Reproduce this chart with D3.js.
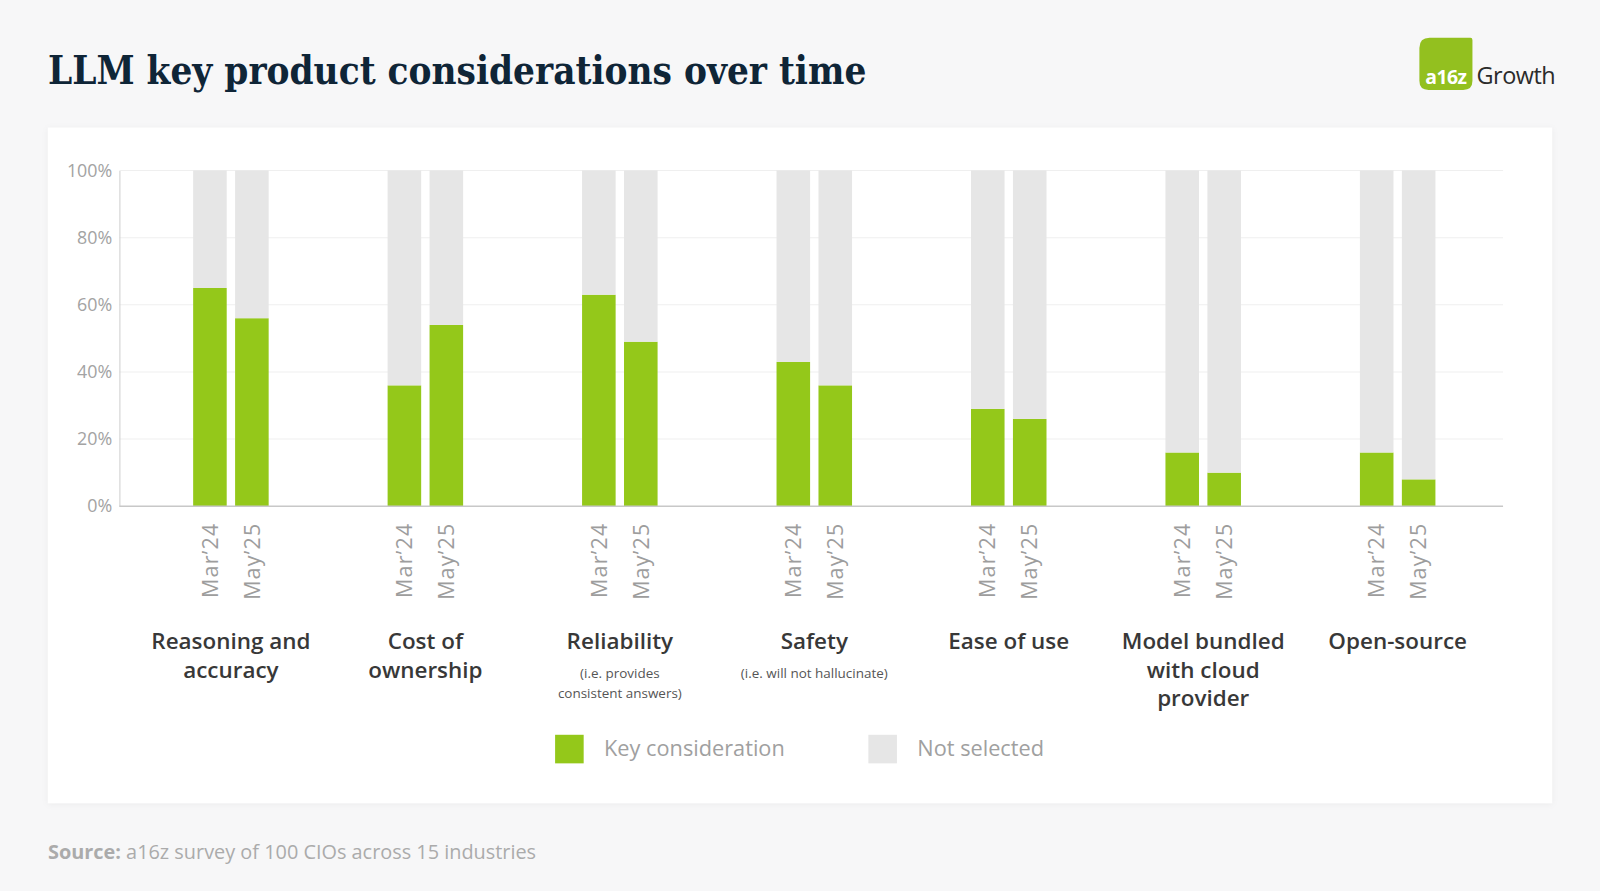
<!DOCTYPE html>
<html>
<head>
<meta charset="utf-8">
<script src="https://cdn.jsdelivr.net/npm/d3@7"></script>
<style>
  body { margin: 0; background: #f7f7f8; }
  svg { display: block; }
</style>
</head>
<body>
<svg id="chart" width="1600" height="891" viewBox="0 0 1568 873"></svg>
<script>
const categories = ['Reasoning and\naccuracy', 'Cost of\nownership', 'Reliability', 'Safety',
  'Ease of use', 'Model bundled\nwith cloud\nprovider', 'Open-source'];
const notes = ['', '', '(i.e. provides\nconsistent answers)', '(i.e. will not hallucinate)', '', '', ''];
const waves = ['Mar\u201924', 'May\u201925'];
const keyMar24 = [0.65, 0.36, 0.63, 0.43, 0.29, 0.16, 0.16];
const keyMay25 = [0.56, 0.54, 0.49, 0.36, 0.26, 0.10, 0.08];
const yTicks = [0, 0.2, 0.4, 0.6, 0.8, 1];
const legendLabels = ['Key consideration', 'Not selected'];

const GREEN = '#94c81a';
const GRAY = '#e6e6e6';
const SANS = '"Open Sans", Lato, sans-serif';

const svg = d3.select('#chart');

svg.append('rect').attr('width', 1568).attr('height', 873).attr('fill', '#f7f7f8');

// card with a soft shadow
const defs = svg.append('defs');
const f = defs.append('filter').attr('id', 'shadow')
  .attr('x', -0.05).attr('y', -0.05).attr('width', 1.1).attr('height', 1.1);
f.append('feDropShadow').attr('dx', 0).attr('dy', 1).attr('stdDeviation', 3)
  .attr('flood-color', '#000').attr('flood-opacity', 0.05);

svg.append('rect')
  .attr('x', 47).attr('y', 125).attr('width', 1474).attr('height', 662)
  .attr('fill', '#fff').attr('filter', 'url(#shadow)');

// title
svg.append('text')
  .attr('x', 47).attr('y', 82)
  .attr('font-family', '"DejaVu Serif", serif')
  .attr('font-weight', 'bold')
  .attr('font-size', 39)
  .attr('fill', '#0f2537')
  .attr('textLength', 802)
  .attr('lengthAdjust', 'spacingAndGlyphs')
  .text('LLM key product considerations over time');

// logo
const logo = svg.append('g').attr('transform', 'translate(1391,37)');
logo.append('path')
  .attr('d', 'M10,0 H50 Q52,0 52,2 V42 Q52,51 43,51 H9 Q0,51 0,42 V10 Q0,0 10,0 Z')
  .attr('fill', '#93c01f');
logo.append('text')
  .attr('x', 26).attr('y', 45).attr('text-anchor', 'middle')
  .attr('font-family', SANS).attr('font-weight', 700).attr('font-size', 19)
  .attr('fill', '#fff').attr('letter-spacing', -0.5).text('a16z');
logo.append('text')
  .attr('x', 56).attr('y', 45)
  .attr('font-family', SANS).attr('font-size', 23)
  .attr('fill', '#2b2b2b').attr('letter-spacing', -0.5).text('Growth');

// scales
const x = d3.scaleBand().domain(categories).range([131, 1465]).padding(0);
const xInner = d3.scaleBand().domain(waves).range([-37, 37]).paddingInner(0.2);
const y = d3.scaleLinear().domain([0, 1]).range([496, 167]);

// gridlines
svg.append('g')
  .selectAll('line')
  .data(yTicks.slice(1))
  .join('line')
  .attr('x1', 117).attr('x2', 1473)
  .attr('y1', d => y(d)).attr('y2', d => y(d))
  .attr('stroke', '#efefef').attr('stroke-width', 1);

// y axis
const yAxis = svg.append('g')
  .attr('transform', 'translate(117,0)')
  .call(d3.axisLeft(y).tickValues(yTicks).tickFormat(d3.format('.0%')).tickSize(0).tickPadding(7));
yAxis.select('.domain').attr('stroke', '#cfcfcf');
yAxis.selectAll('text')
  .attr('font-family', SANS).attr('font-size', 17.5).attr('fill', '#a3a3a3');

// bars
const rows = [];
categories.forEach((c, i) => {
  rows.push({cat: c, wave: waves[0], key: keyMar24[i], not: 1 - keyMar24[i]});
  rows.push({cat: c, wave: waves[1], key: keyMay25[i], not: 1 - keyMay25[i]});
});
const series = d3.stack().keys(['key', 'not'])(rows);
const colors = {key: GREEN, not: GRAY};

svg.append('g')
  .selectAll('g')
  .data(series)
  .join('g')
  .attr('fill', s => colors[s.key])
  .selectAll('rect')
  .data(s => s)
  .join('rect')
  .attr('x', d => x(d.data.cat) + x.bandwidth() / 2 + xInner(d.data.wave))
  .attr('width', xInner.bandwidth())
  .attr('y', d => y(d[1]))
  .attr('height', d => y(d[0]) - y(d[1]));

// baseline
svg.append('line')
  .attr('x1', 117).attr('x2', 1473)
  .attr('y1', y(0)).attr('y2', y(0))
  .attr('stroke', '#c8c8c8').attr('stroke-width', 1.5);

// rotated wave labels
svg.append('g')
  .selectAll('text')
  .data(rows)
  .join('text')
  .attr('transform', d => {
    const cx = x(d.cat) + x.bandwidth() / 2 + xInner(d.wave) + xInner.bandwidth() / 2;
    return `translate(${cx},${y(0) + 16}) rotate(-90)`;
  })
  .attr('text-anchor', 'end')
  .attr('dy', '0.36em')
  .attr('font-family', SANS).attr('font-size', 21).attr('letter-spacing', 1.2)
  .attr('fill', '#9d9d9d')
  .text(d => d.wave);

// category labels
const catG = svg.append('g')
  .selectAll('g')
  .data(categories.map((c, i) => ({c, note: notes[i]})))
  .join('g')
  .attr('transform', d => `translate(${x(d.c) + x.bandwidth() / 2},0)`);

catG.append('text')
  .attr('text-anchor', 'middle')
  .attr('font-family', SANS).attr('font-weight', 600).attr('font-size', 22)
  .attr('fill', '#383838')
  .selectAll('tspan')
  .data(d => d.c.split('\n'))
  .join('tspan')
  .attr('x', 0)
  .attr('y', (d, i) => 636 + i * 28)
  .text(d => d);

catG.append('text')
  .attr('text-anchor', 'middle')
  .attr('font-family', SANS).attr('font-size', 13.2)
  .attr('fill', '#555')
  .selectAll('tspan')
  .data(d => d.note ? d.note.split('\n') : [])
  .join('tspan')
  .attr('x', 0)
  .attr('y', (d, i) => 664 + i * 20)
  .text(d => d);

// legend
const legend = svg.append('g')
  .selectAll('g')
  .data(legendLabels)
  .join('g')
  .attr('transform', (d, i) => `translate(${544 + i * 307},720)`);
legend.append('rect')
  .attr('width', 28).attr('height', 28)
  .attr('fill', (d, i) => i === 0 ? GREEN : GRAY);
legend.append('text')
  .attr('x', 48).attr('y', 21)
  .attr('font-family', SANS).attr('font-size', 21.3).attr('fill', '#a0a0a0')
  .text(d => d);

// source
const src = svg.append('text')
  .attr('x', 47).attr('y', 842)
  .attr('font-family', SANS).attr('font-size', 19.5).attr('fill', '#ababab');
src.append('tspan').attr('font-weight', 700).text('Source:');
src.append('tspan').text(' a16z survey of 100 CIOs across 15 industries');
</script>
</body>
</html>
